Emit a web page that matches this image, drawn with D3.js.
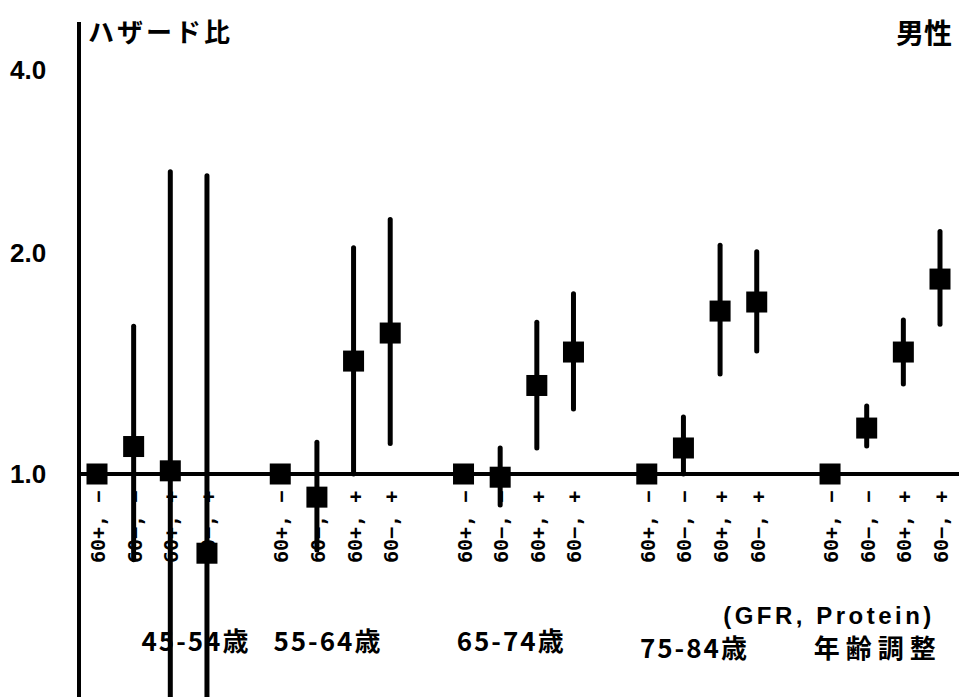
<!DOCTYPE html>
<html>
<head>
<meta charset="utf-8">
<script src="https://cdn.jsdelivr.net/npm/d3@7"></script>
<style>
  body { margin: 0; background: #fff; }
  svg { display: block; }
</style>
</head>
<body>
<div id="chart"></div>
<script>
// age groups and the four GFR / protein combinations inside each
const groups = ["45-54歳", "55-64歳", "65-74歳", "75-84歳", "年齢調整"];
const tickLabels = ["60+, −", "60−, −", "60+, +", "60−, +"];

// hazard ratios, group by group (first of each group is the reference)
const hr    = [1, 1.09, 1.01, 0.78,   1, 0.93, 1.425, 1.556,   1, 0.99, 1.32, 1.466,   1, 1.085, 1.667, 1.715,   1, 1.155, 1.466, 1.843];
const lower = [null, 0.764, 0.3, 0.3,   null, 0.788, 1.0, 1.10,   null, 0.907, 1.085, 1.226,   null, 1.0, 1.368, 1.471,   null, 1.092, 1.326, 1.60];
const upper = [null, 1.59, 2.72, 2.68,   null, 1.105, 2.04, 2.27,   null, 1.085, 1.61, 1.76,   null, 1.196, 2.06, 2.01,   null, 1.238, 1.621, 2.17];

const yTicks = [1, 2, 4];

var width = 959, height = 697;

var svg = d3.select("#chart").append("svg")
    .attr("width", width)
    .attr("height", height);

// one slot per point, an empty slot between groups
var x = d3.scaleLinear().domain([0, 23]).range([97, 940]);
var slot = i => Math.floor(i / 4) * 5 + (i % 4);

// log2 scale, upper part squeezed as in the original figure
var yLin = d3.scaleLinear().domain([-1, 0, 1, 2]).range([695, 474, 253, 70]);
var y = v => yLin(Math.log2(v));

var data = hr.map((v, i) => ({v: v, lo: lower[i], hi: upper[i], i: i, label: tickLabels[i % 4]}));

// y axis line
svg.append("line")
    .attr("x1", 79).attr("x2", 79)
    .attr("y1", 22).attr("y2", height)
    .attr("stroke", "#000").attr("stroke-width", 4);

// reference line at 1.0
svg.append("line")
    .attr("x1", 79).attr("x2", width)
    .attr("y1", y(1)).attr("y2", y(1))
    .attr("stroke", "#000").attr("stroke-width", 4);

// y tick labels
svg.selectAll(".ytick")
    .data(yTicks)
    .enter()
    .append("text")
    .attr("class", "ytick")
    .attr("x", 10)
    .attr("y", d => y(d))
    .attr("dy", "0.36em")
    .style("font-family", "'Liberation Sans', Arial, sans-serif")
    .style("font-weight", "bold")
    .style("font-size", "26px")
    .text(d => d.toFixed(1));

// x tick labels, rotated
svg.selectAll(".xtick")
    .data(data)
    .enter()
    .append("text")
    .attr("class", "xtick")
    .attr("transform", d => "translate(" + (x(slot(d.i)) + 1) + ",563) rotate(-90)")
    .attr("dy", "0.35em")
    .style("font-family", "'DejaVu Sans Mono', monospace")
    .style("font-weight", "bold")
    .style("font-size", "20px")
    .text(d => d.label);

// confidence intervals
svg.selectAll(".ci")
    .data(data.filter(d => d.lo != null))
    .enter()
    .append("line")
    .attr("class", "ci")
    .attr("x1", d => x(slot(d.i))).attr("x2", d => x(slot(d.i)))
    .attr("y1", d => y(d.hi)).attr("y2", d => y(d.lo))
    .attr("stroke", "#000")
    .attr("stroke-width", 5)
    .attr("stroke-linecap", "round");

// point estimates
var sq = 21;
svg.selectAll(".pt")
    .data(data)
    .enter()
    .append("rect")
    .attr("class", "pt")
    .attr("x", d => x(slot(d.i)) - sq / 2)
    .attr("y", d => y(d.v) - sq / 2)
    .attr("width", sq)
    .attr("height", sq)
    .attr("fill", "#000");

var jp = "'Noto Sans CJK JP', sans-serif";

svg.append("text")
    .attr("x", 88).attr("y", 42)
    .style("font-family", jp).style("font-weight", "bold")
    .style("font-size", "26px").style("letter-spacing", "3px")
    .text("ハザード比");

svg.append("text")
    .attr("x", 952).attr("y", 44)
    .attr("text-anchor", "end")
    .style("font-family", jp).style("font-weight", "bold")
    .style("font-size", "28px")
    .text("男性");

svg.append("text")
    .attr("x", 829).attr("y", 624)
    .attr("text-anchor", "middle")
    .style("font-family", "'Liberation Sans', Arial, sans-serif").style("font-weight", "bold")
    .style("font-size", "24px").style("letter-spacing", "3.5px")
    .text("(GFR, Protein)");

// group labels
var groupPos = [2.7, 6.3, 11.3, 16.3, 21.3];
var groupBase = [651, 651, 651, 658, 658];
svg.selectAll(".grp")
    .data(groups)
    .enter()
    .append("text")
    .attr("class", "grp")
    .attr("x", (d, i) => x(groupPos[i]))
    .attr("y", (d, i) => groupBase[i])
    .attr("text-anchor", "middle")
    .style("font-family", jp).style("font-weight", "bold")
    .style("font-size", "26px")
    .style("letter-spacing", (d, i) => i == 4 ? "6px" : "2px")
    .text(d => d);
</script>
</body>
</html>
